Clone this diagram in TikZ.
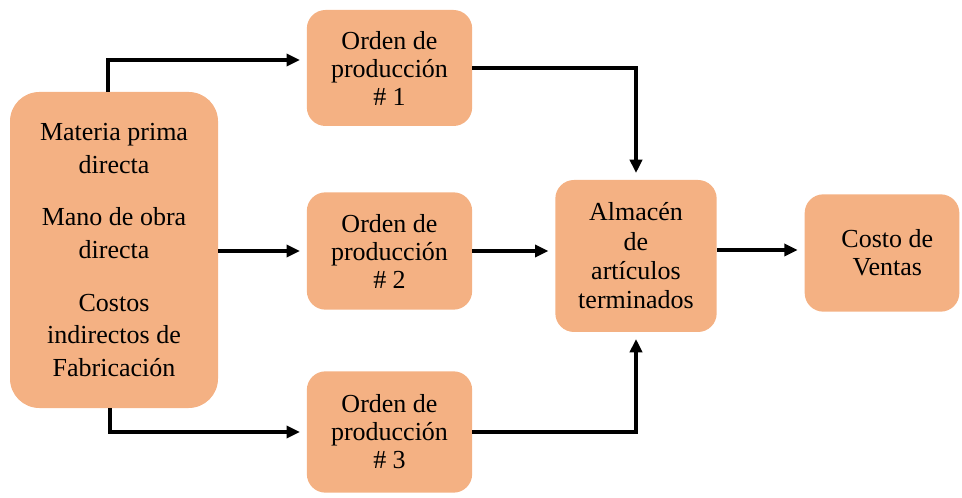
\documentclass[tikz,border=0pt]{standalone}
\usepackage{fontspec}
\setmainfont{Liberation Serif}
\usetikzlibrary{positioning}
\usetikzlibrary{arrows.meta}
\usetikzlibrary{calc}

\definecolor{salmon}{RGB}{244,177,131}
\tikzset{
    box/.style={fill=salmon, rounded corners=14pt, align=center, inner sep=2pt,
        font=\rmfamily\fontsize{19.5}{21}\selectfont},
    flow/.style={line width=2.6pt, -{Triangle[length=10pt,width=9pt]}, shorten >=5pt}
}

\begin{document}
\begin{tikzpicture}[x=0.75pt, y=-0.75pt]
        \useasboundingbox (0,0) rectangle (962,498);

        \node[box, minimum width=156pt, minimum height=237pt, rounded corners=22pt,
            font=\rmfamily\fontsize{19.5}{24.5}\selectfont] (mat) at (114,250)
            {Materia prima\\directa\\[15pt]Mano de obra\\directa\\[15pt]Costos\\indirectos de\\Fabricación};

        \node[box, minimum width=124pt, minimum height=87pt] (ord1) at (389.5,68)
            {Orden de\\producción\\\# 1};
        \node[box, minimum width=124pt, minimum height=88pt] (ord2) at (389.5,251)
            {Orden de\\producción\\\# 2};
        \node[box, minimum width=124pt, minimum height=91pt] (ord3) at (389.5,432)
            {Orden de\\producción\\\# 3};

        \node[box, minimum width=121pt, minimum height=114pt, font=\rmfamily\fontsize{19.5}{22}\selectfont] (alm) at (636,256)
            {Almacén\\de\\artículos\\terminados};
        \node[box, minimum width=116pt, minimum height=88pt] (cv) at (882,253)
            {\hspace*{8pt}Costo de\\\hspace*{8pt}Ventas};

        % conexiones
        \draw[flow] ([xshift=-4.5pt]mat.north) |- ([yshift=6pt]ord1.west);
        \draw[flow] (mat.east |- ord2.west) -- (ord2.west);
        \draw[flow] ([xshift=-3pt]mat.south) |- (ord3.west);
        \draw[flow] (ord1.east) -| (alm.north);
        \draw[flow] (ord2.east) -- (ord2.east -| alm.west);
        \draw[flow] (ord3.east) -| (alm.south);
        \draw[flow] ([yshift=4.5pt]alm.east) -- ([yshift=4.5pt]alm.east -| cv.west);
\end{tikzpicture}
\end{document}
